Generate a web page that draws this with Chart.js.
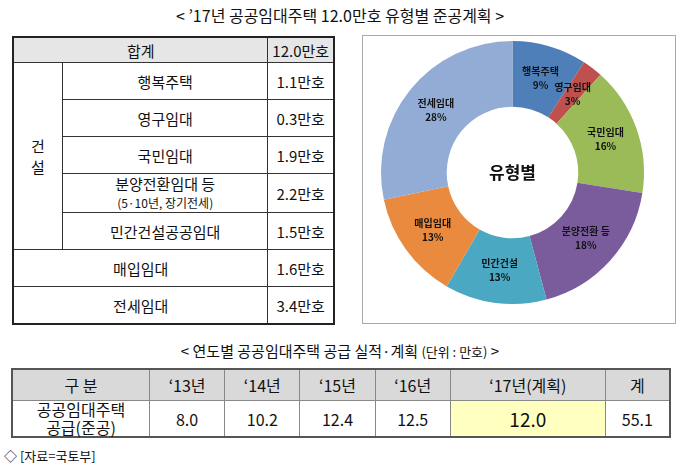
<!DOCTYPE html>
<html><head><meta charset="utf-8">
<script src="https://cdn.jsdelivr.net/npm/chart.js@4"></script>
<style>
body{margin:0;width:680px;height:469px;background:#fff;font-family:"Noto Sans CJK KR",sans-serif;color:#111;position:relative;overflow:hidden}
.t{position:absolute;white-space:nowrap;text-align:center}
table{border-collapse:collapse;position:absolute}
td{border:1px solid #333;text-align:center;padding:0;font-size:15px}
#left{left:12px;top:36px;width:323px;border:2px solid #222}
#left td{height:36px}
#bot{left:11px;top:368px;width:660px;border:2px solid #555}
#bot td{font-size:16px;border-color:#888}
#box{position:absolute;left:362px;top:35px;width:312px;height:287px;border:1px solid #aaa}
</style></head><body>
<div class="t" style="left:0;width:680px;top:3px;font-size:16px">&lt; ’17년 공공임대주택 12.0만호 유형별 준공계획 &gt;</div>
<table id="left">
<tr style="background:#e6e6e6"><td colspan="2" style="height:24px;width:229px">합계</td><td style="height:24px">12.0만호</td></tr>
<tr><td rowspan="5" style="width:48px">건<br>설</td><td>행복주택</td><td>1.1만호</td></tr>
<tr><td>영구임대</td><td>0.3만호</td></tr>
<tr><td>국민임대</td><td>1.9만호</td></tr>
<tr><td style="height:38px;line-height:1.2">분양전환임대 등<br><span style="font-size:12px">(5·10년, 장기전세)</span></td><td>2.2만호</td></tr>
<tr><td>민간건설공공임대</td><td>1.5만호</td></tr>
<tr><td colspan="2">매입임대</td><td>1.6만호</td></tr>
<tr><td colspan="2">전세임대</td><td>3.4만호</td></tr>
</table>
<div id="box"><canvas id="c" width="312" height="287"></canvas></div>
<div class="t" style="left:0;width:680px;top:340px;font-size:15px">&lt; 연도별 공공임대주택 공급 실적·계획 <span style="font-size:13px">(단위 : 만호)</span> &gt;</div>
<table id="bot">
<tr style="background:#d9d9d9"><td style="width:136px;height:30px">구 분</td><td>‘13년</td><td>‘14년</td><td>‘15년</td><td>‘16년</td><td>‘17년(계획)</td><td>계</td></tr>
<tr><td style="height:30px;line-height:1.1">공공임대주택<br>공급(준공)</td><td>8.0</td><td>10.2</td><td>12.4</td><td>12.5</td><td style="background:#ffffc0;font-size:19px">12.0</td><td>55.1</td></tr>
</table>
<div class="t" style="left:4px;top:446px;font-size:13px;text-align:left">◇ [자료=국토부]</div>
<script>
const types = ['행복주택','영구임대','국민임대','분양전환 등','민간건설','매입임대','전세임대'];
const units = [1.1, 0.3, 1.9, 2.2, 1.5, 1.6, 3.4];
const shares = [9, 3, 16, 18, 13, 13, 28];
const colors = ['#4f7fb8','#c0504d','#9bbb59','#7a5c9c','#4aa8c2','#e98a3e','#93acd6'];

const labelPlugin = {
  id: 'lbl',
  afterDatasetsDraw(chart) {
    const ctx = chart.ctx;
    const meta = chart.getDatasetMeta(0);
    ctx.save();
    ctx.textAlign = 'center';
    ctx.textBaseline = 'middle';
    ctx.fillStyle = '#111';
    meta.data.forEach((arc, i) => {
      const p = arc.tooltipPosition();
      ctx.font = 'bold 10px "Noto Sans CJK KR"';
      ctx.fillText(types[i], p.x, p.y - 7);
      ctx.fillText(shares[i] + '%', p.x, p.y + 7);
    });
    const a = meta.data[0];
    ctx.font = 'bold 17px "Noto Sans CJK KR"';
    ctx.fillText('유형별', a.x, a.y);
    ctx.restore();
  }
};

new Chart(document.getElementById('c'), {
  type: 'doughnut',
  data: {
    labels: types,
    datasets: [{ data: units, backgroundColor: colors, borderWidth: 0 }]
  },
  options: {
    responsive: false,
    animation: false,
    cutout: '50%',
    layout: { padding: { top: 0, bottom: 14, left: 18, right: 31 } },
    plugins: { legend: { display: false }, tooltip: { enabled: false } }
  },
  plugins: [labelPlugin]
});
</script>
</body></html>
